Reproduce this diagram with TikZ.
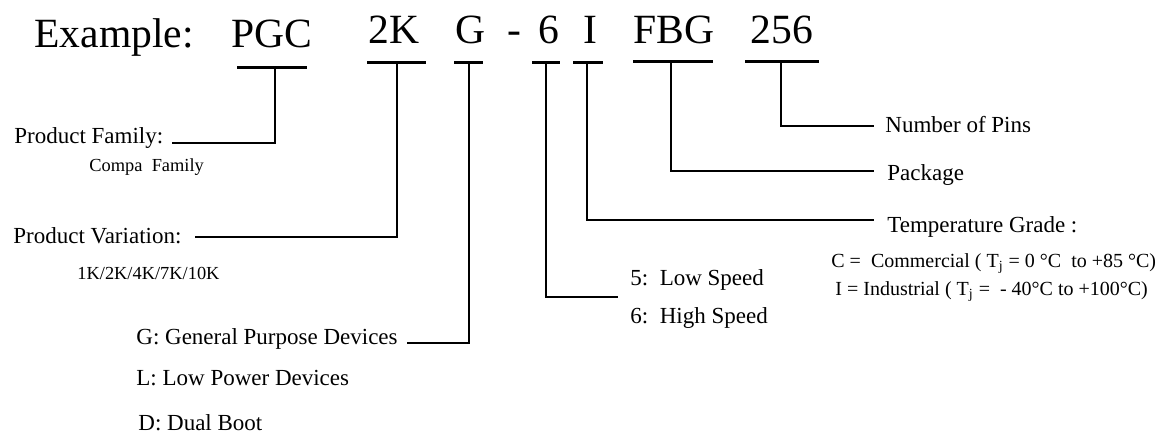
\documentclass[tikz,border=0pt]{standalone}
\usepackage{fontspec}
\setmainfont{Liberation Serif}
\usetikzlibrary{positioning,calc}
\tikzset{
  pn-code/.style={font=\fontsize{20.8}{24}\selectfont, anchor=base west,
    inner sep=0pt},
  pn-label/.style={font=\fontsize{11.5}{14}\selectfont, anchor=base west,
    inner sep=0pt},
  pn-note/.style={font=\fontsize{9.2}{11}\selectfont, anchor=base west,
    inner sep=0pt},
  pn-temp/.style={font=\fontsize{10}{12}\selectfont, anchor=base west,
    inner sep=0pt},
  pn-bar/.style={line width=1.5pt},
  pn-link/.style={line width=1.2pt}
}

\begin{document}
\begin{tikzpicture}[x=0.5pt, y=-0.5pt]
\useasboundingbox (0,0) rectangle (1162,434);
% Part number
\node[pn-code] (ex) at (34,47) {Example:};
\node[pn-code] (pgc) at (231,47) {PGC};
\foreach \n/\x/\t in {dens/368/2K, grp/455/G, sep/507/-, spd/538/6,
    temp/583/I, pkg/633/FBG, pins/750/256}{
  \node[pn-code] (\n) at (\x,43) {\t};
}
% Labels
\node[pn-label] (pfam) at (14,143) {Product Family:};
\node[pn-note] (pcompa) at (89,171) {Compa\ \ Family};
\node[pn-label] (pvar) at (13,243) {Product Variation:};
\node[pn-note] (pvals) at (77,279) {1K/2K/4K/7K/10K};
\node[pn-label] (gpd) at (136,344) {G: General Purpose Devices};
\node[pn-label] (lpd) at (136,385) {L: Low Power Devices};
\node[pn-label] (dboot) at (138,430) {D: Dual Boot};
\node[pn-label] (lows) at (630,285) {5:\ \ Low Speed};
\node[pn-label] (highs) at (630,323) {6:\ \ High Speed};
\node[pn-label] (tgrade) at (887,232) {Temperature Grade :};
\node[pn-temp] (tcom) at (831,267) {C =\ \ Commercial ( T\textsubscript{j} = 0 °C\ \ to +85 °C)};
\node[pn-temp] (tind) at (835,295) {I = Industrial ( T\textsubscript{j} =\ \ - 40°C to +100°C)};
\node[pn-label] (npins) at (885,132) {Number of Pins};
\node[pn-label] (pack) at (887,180) {Package};
% Underlines and stems
\foreach \n/\xa/\xb/\xm/\y/\xe/\ye in {pgc/237/307/275/67/172/143,
    dens/367/426/397/62/195/237, grp/454/483/469/62/407/343,
    spd/532/560/546/62/618/297, temp/573/603/587/62/874/220,
    pkg/633/713/671/61/874/171, pins/745/819/781/61/874/126}{
  \coordinate (\n-l) at (\xa,\y);
  \coordinate (\n-r) at (\xb,\y);
  \coordinate (\n-s) at (\xm,\y);
  \coordinate (\n-e) at (\xe,\ye);
  \draw[pn-bar] (\n-l) -- (\n-r);
  \draw[pn-link] (\n-s) |- (\n-e);
}
\end{tikzpicture}
\end{document}
